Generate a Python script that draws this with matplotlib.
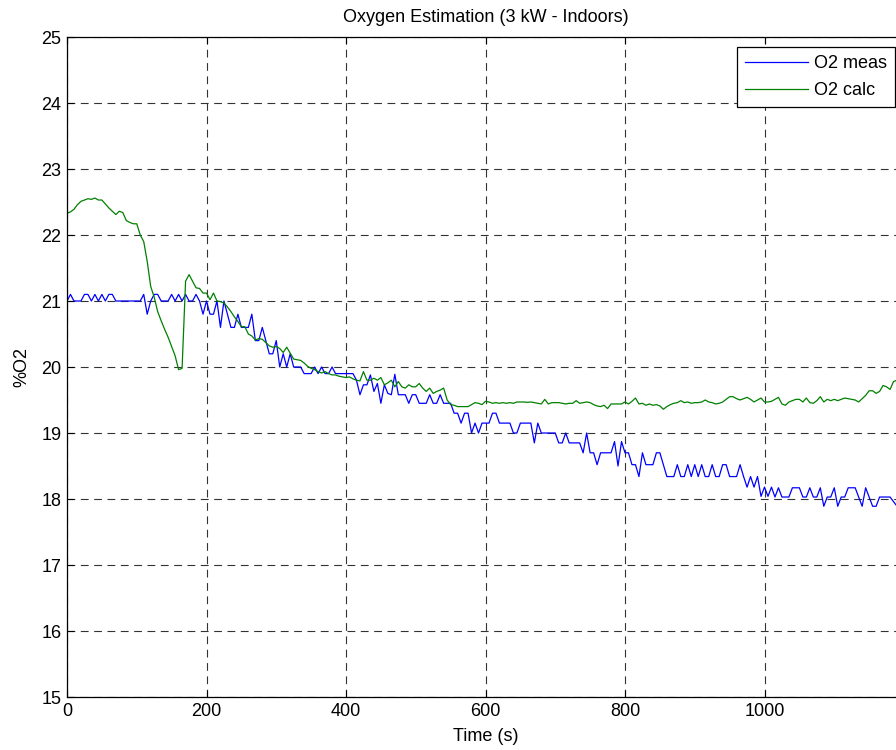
import numpy as np
import matplotlib
matplotlib.use("Agg")
import matplotlib.pyplot as plt

plt.rcParams['font.family'] = ['Liberation Sans', 'DejaVu Sans']

# Sampling grid (s)
time_s = np.arange(0, 1195, 5)

# Measured oxygen concentration (%)
o2_meas = [
    21.0, 21.1, 21.0, 21.0, 21.0, 21.1, 21.1, 21.0, 21.1, 21.0,
    21.1, 21.0, 21.1, 21.1, 21.0, 21.0, 21.0, 21.0, 21.0, 21.0,
    21.0, 21.0, 21.1, 20.8, 21.0, 21.1, 21.1, 21.0, 21.0, 21.0,
    21.1, 21.0, 21.1, 21.0, 21.1, 21.0, 21.0, 21.1, 21.0, 20.8,
    21.0, 20.8, 20.8, 21.0, 20.6, 21.0, 20.8, 20.6, 20.6, 20.8,
    20.6, 20.6, 20.6, 20.8, 20.4, 20.4, 20.6, 20.4, 20.2, 20.2,
    20.4, 20.0, 20.2, 20.0, 20.2, 20.0, 20.0, 20.0, 19.9, 19.9,
    19.9, 20.0, 19.9, 20.0, 19.9, 19.9, 20.0, 19.9, 19.9, 19.9,
    19.9, 19.9, 19.9, 19.8, 19.58, 19.73, 19.73, 19.88, 19.63, 19.75,
    19.45, 19.73, 19.6, 19.58, 19.89, 19.58, 19.58, 19.58, 19.45, 19.58,
    19.58, 19.45, 19.45, 19.45, 19.58, 19.45, 19.45, 19.58, 19.45, 19.45,
    19.45, 19.3, 19.3, 19.15, 19.3, 19.3, 19.0, 19.15, 19.0, 19.15,
    19.15, 19.15, 19.3, 19.3, 19.15, 19.15, 19.15, 19.15, 19.0, 19.0,
    19.15, 19.15, 19.15, 19.15, 18.85, 19.15, 19.0, 19.0, 19.0, 19.0,
    19.0, 18.85, 18.85, 19.0, 18.85, 18.85, 18.85, 18.85, 18.7, 19.0,
    18.7, 18.7, 18.52, 18.7, 18.7, 18.7, 18.7, 18.87, 18.5, 18.87,
    18.7, 18.7, 18.52, 18.52, 18.34, 18.7, 18.52, 18.52, 18.52, 18.7,
    18.7, 18.52, 18.34, 18.34, 18.34, 18.52, 18.34, 18.34, 18.52, 18.34,
    18.52, 18.34, 18.52, 18.34, 18.34, 18.52, 18.34, 18.34, 18.52, 18.52,
    18.34, 18.34, 18.34, 18.52, 18.34, 18.18, 18.34, 18.18, 18.34, 18.04,
    18.18, 18.04, 18.18, 18.03, 18.17, 18.03, 18.03, 18.03, 18.17, 18.17,
    18.17, 18.03, 18.03, 18.17, 18.03, 18.03, 18.17, 17.89, 18.03, 18.03,
    18.17, 17.89, 18.03, 18.03, 18.17, 18.17, 18.17, 18.03, 17.89, 18.17,
    18.03, 17.89, 17.89, 18.03, 18.03, 18.03, 18.03, 17.96, 17.89,
]

# Calculated oxygen concentration (%)
o2_calc = [
    22.33, 22.35, 22.39, 22.46, 22.51, 22.53, 22.55, 22.54, 22.56, 22.53,
    22.53, 22.47, 22.41, 22.36, 22.31, 22.36, 22.34, 22.22, 22.19, 22.17,
    22.17, 22.0, 21.9, 21.6, 21.22, 21.06, 20.84, 20.70, 20.57, 20.45,
    20.31, 20.17, 19.96, 19.98, 21.3, 21.40, 21.3, 21.2, 21.19, 21.12,
    21.12, 21.02, 21.12, 21.0, 20.99, 20.97, 20.91, 20.84, 20.76, 20.69,
    20.61, 20.61, 20.50, 20.47, 20.41, 20.43, 20.42, 20.37, 20.32, 20.30,
    20.31, 20.28, 20.22, 20.30, 20.21, 20.12, 20.11, 20.10, 20.06, 20.01,
    19.98, 19.96, 19.93, 19.91, 19.93, 19.90, 19.88, 19.88, 19.86, 19.85,
    19.84, 19.85, 19.82, 19.80, 19.79, 19.93, 19.80, 19.80, 19.83, 19.80,
    19.84, 19.73, 19.76, 19.80, 19.70, 19.78, 19.70, 19.68, 19.73, 19.70,
    19.70, 19.75, 19.68, 19.63, 19.68, 19.60, 19.63, 19.65, 19.68, 19.50,
    19.43, 19.42, 19.40, 19.40, 19.40, 19.40, 19.43, 19.46, 19.45, 19.43,
    19.48, 19.47, 19.45, 19.46, 19.45, 19.46, 19.45, 19.46, 19.45, 19.47,
    19.47, 19.47, 19.465, 19.47, 19.46, 19.45, 19.44, 19.51, 19.44, 19.46,
    19.46, 19.46, 19.45, 19.44, 19.45, 19.45, 19.49, 19.45, 19.46, 19.47,
    19.46, 19.43, 19.41, 19.40, 19.42, 19.37, 19.44, 19.44, 19.44, 19.44,
    19.47, 19.44, 19.48, 19.53, 19.44, 19.45, 19.42, 19.44, 19.42, 19.43,
    19.41, 19.36, 19.40, 19.43, 19.45, 19.46, 19.49, 19.46, 19.47, 19.45,
    19.46, 19.46, 19.47, 19.50, 19.47, 19.46, 19.44, 19.45, 19.47, 19.51,
    19.55, 19.55, 19.52, 19.50, 19.52, 19.54, 19.51, 19.47, 19.50, 19.53,
    19.47, 19.47, 19.48, 19.51, 19.54, 19.44, 19.42, 19.47, 19.49, 19.51,
    19.51, 19.47, 19.53, 19.46, 19.45, 19.49, 19.55, 19.47, 19.51, 19.49,
    19.51, 19.49, 19.51, 19.53, 19.52, 19.51, 19.50, 19.47, 19.52, 19.57,
    19.64, 19.64, 19.60, 19.63, 19.72, 19.70, 19.66, 19.78, 19.80,
]

x_ticks = [0, 200, 400, 600, 800, 1000]
y_ticks = list(range(15, 26))

W, H = 896, 750
fig = plt.figure(figsize=(W / 100, H / 100), dpi=100)
ax = fig.add_axes([67 / W, 53 / H, 837 / W, 660 / H])

ax.plot(time_s, o2_meas, color='#0000FF', lw=0.9, label='O2 meas')
ax.plot(time_s, o2_calc, color='#008000', lw=0.9, label='O2 calc')

ax.set_xlim(0, 1200)
ax.set_ylim(15, 25)
ax.set_xticks(x_ticks)
ax.set_yticks(y_ticks)
ax.tick_params(direction='in', length=5, width=0.8, labelsize=13, pad=4,
               top=True, right=True)
ax.grid(True, color='#333333', linestyle=(0, (7, 5)), linewidth=0.8)
for s in ax.spines.values():
    s.set_linewidth(0.9)
    s.set_color('black')

ax.set_title('Oxygen Estimation (3 kW - Indoors)', fontsize=13, pad=11)
ax.set_xlabel('Time (s)', fontsize=13, labelpad=6)
ax.set_ylabel('%O2', fontsize=13, labelpad=8)

leg = ax.legend(loc='upper right', bbox_to_anchor=(895 / W, 1 - 47 / H),
                bbox_transform=fig.transFigure, borderaxespad=0,
                fancybox=False, edgecolor='black', framealpha=1,
                fontsize=13, handlelength=3.5, handletextpad=0.3,
                labelspacing=0.55, borderpad=0.45)
leg.get_frame().set_linewidth(0.9)

fig.savefig('out.png', dpi=100)
